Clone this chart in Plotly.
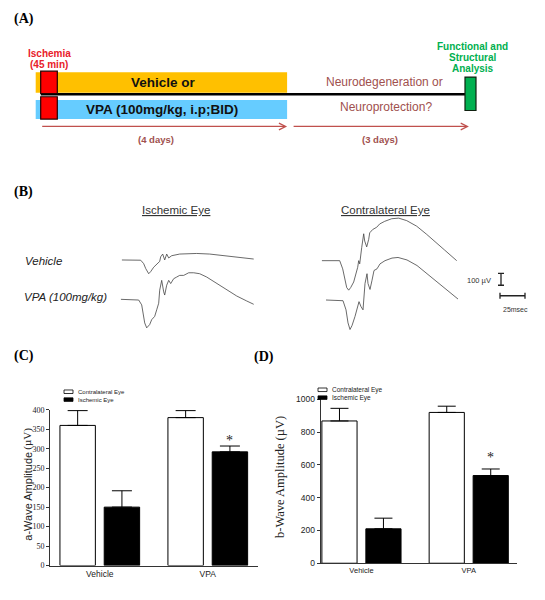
import plotly.graph_objects as go

W, H = 545, 600

# ------------------------------------------------------------------ data
groups = ["Vehicle", "VPA"]
series_names = ["Contralateral Eye", "Ischemic Eye"]

a_contra = [360, 380]
a_contra_sem = [38, 18]
a_isch = [150, 292]
a_isch_sem = [42, 15]
a_ticks = [0, 50, 100, 150, 200, 250, 300, 350, 400]

b_contra = [868, 920]
b_contra_sem = [77, 38]
b_isch = [210, 535]
b_isch_sem = [65, 40]
b_ticks = [0, 200, 400, 600, 800, 1000]

# ERG traces: time (ms) and amplitude (µV, relative to baseline)
isch_veh_t = [0, 19, 22, 24, 27, 29, 32, 35, 38, 39, 41, 43, 45, 47, 50, 58, 75, 88, 105, 122, 132]
isch_veh_uv = [0, -2, -31, -72, -116, -98, -61, -39, -12, 27, 50, 0, 50, 17, 36, 50, 55, 50, 36, 17, 8]

isch_vpa_t = [0, 18, 21, 23, 24, 26, 29, 31, 34, 36, 38, 39, 41, 43, 44, 46, 48, 50, 53, 56, 59, 63,
              68, 73, 79, 86, 96, 106, 116, 126, 133]
isch_vpa_uv = [0, -6, -47, -130, -199, -241, -213, -172, -144, -89, -33, 77, 160, 63, 36, 119, 160, 133,
               174, 188, 202, 202, 224, 224, 216, 188, 133, 77, 28, -14, -42]

con_veh_t = [0, 18, 21, 23, 25, 27, 29, 32, 34, 36, 37, 38, 40, 42, 43, 45, 47, 48, 51, 55, 58, 63, 70,
             77, 85, 95, 105, 115, 123, 135]
con_veh_uv = [0, 0, -69, -166, -227, -249, -227, -180, -124, -56, 0, -27, 110, 227, 166, 116, 180, 235,
              263, 282, 310, 332, 354, 359, 338, 291, 222, 152, 89, 0]

con_vpa_t = [0, 17, 20, 22, 24, 26, 29, 31, 33, 35, 37, 39, 41, 42, 44, 46, 48, 51, 54, 59, 66, 72, 81,
             91, 101, 111, 119, 132]
con_vpa_uv = [0, -6, -83, -193, -249, -216, -139, -69, -14, -56, -83, 139, 222, 139, 89, 166, 249, 263,
              305, 332, 354, 359, 338, 291, 222, 152, 97, 8]

scale_uv = 100
scale_ms = 25

ischemia_min = 45
treat_days = 4
follow_days = 3

# ------------------------------------------------------------------ styling helpers
SANS = "Liberation Sans, Arial, sans-serif"
SERIF = "Liberation Serif, Times New Roman, serif"
UV_PER_PX = 8.3   # vertical scale of ERG traces
MS_PER_PX = 1.0   # horizontal scale of ERG traces
DAY_PX = 61.6     # timeline scale (px per day)
DAY0_PX = 40.7    # x pixel of day 0


def xd(p0, p1):
    return [p0 / W, p1 / W]


def yd(top, bottom):
    return [1 - bottom / H, 1 - top / H]


annotations = []
shapes = []


def ptext(text, xpx, ypx, size, color="#000", family=SANS, xanchor="center", yanchor="middle", **kw):
    annotations.append(dict(text=text, x=xpx / W, y=1 - ypx / H, xref="paper", yref="paper",
                            showarrow=False, xanchor=xanchor, yanchor=yanchor,
                            font=dict(size=size, color=color, family=family), **kw))


fig = go.Figure()

# ------------------------------------------------------------------ panel C (a-wave)
bar_common = dict(showlegend=False, hoverinfo="skip")
fig.add_trace(go.Bar(x=groups, y=a_contra, name=series_names[0], xaxis="x", yaxis="y",
                     marker=dict(color="white", line=dict(color="black", width=1)),
                     error_y=dict(type="data", symmetric=False, array=a_contra_sem, arrayminus=[0, 0],
                                  color="black", thickness=1, width=10), **bar_common))
fig.add_trace(go.Bar(x=groups, y=a_isch, name=series_names[1], xaxis="x", yaxis="y",
                     marker=dict(color="black", line=dict(color="black", width=1)),
                     error_y=dict(type="data", symmetric=False, array=a_isch_sem, arrayminus=[0, 0],
                                  color="black", thickness=1, width=10), **bar_common))

# ------------------------------------------------------------------ panel D (b-wave)
fig.add_trace(go.Bar(x=groups, y=b_contra, name=series_names[0], xaxis="x2", yaxis="y2",
                     marker=dict(color="white", line=dict(color="black", width=1)),
                     error_y=dict(type="data", symmetric=False, array=b_contra_sem, arrayminus=[0, 0],
                                  color="black", thickness=1, width=9), **bar_common))
fig.add_trace(go.Bar(x=groups, y=b_isch, name=series_names[1], xaxis="x2", yaxis="y2",
                     marker=dict(color="black", line=dict(color="black", width=1)),
                     error_y=dict(type="data", symmetric=False, array=b_isch_sem, arrayminus=[0, 0],
                                  color="black", thickness=1, width=9), **bar_common))

# ------------------------------------------------------------------ panel B (ERG traces)
waves = [
    ("3", isch_veh_t, isch_veh_uv, 121.7, 259.3),
    ("4", isch_vpa_t, isch_vpa_uv, 120.7, 299.3),
    ("5", con_veh_t, con_veh_uv, 321.7, 260.0),
    ("6", con_vpa_t, con_vpa_uv, 326.0, 300.0),
]
wave_axes = {}
for k, t, uv, x0, base in waves:
    fig.add_trace(go.Scatter(x=t, y=uv, mode="lines", xaxis="x" + k, yaxis="y" + k,
                             line=dict(color="#444", width=0.8), showlegend=False, hoverinfo="skip"))
    wave_axes["xaxis" + k] = dict(domain=xd(x0, x0 + 145), range=[0, 145 * MS_PER_PX], visible=False,
                                  anchor="y" + k, fixedrange=True)
    wave_axes["yaxis" + k] = dict(domain=yd(base - 50, base + 38),
                                  range=[-38 * UV_PER_PX, 50 * UV_PER_PX], visible=False,
                                  anchor="x" + k, fixedrange=True)

# scale bar (its own axes with the same scale as the traces)
sb_x0, sb_base = 501, 285
cap_ms = 3 * MS_PER_PX
h_level = -10.7 * UV_PER_PX
tick_uv = 3 * UV_PER_PX
sb_x = [0, 0, None, -cap_ms, cap_ms, None, -cap_ms, cap_ms, None,
        -1, -1 + scale_ms, None, -1, -1, None, -1 + scale_ms, -1 + scale_ms]
sb_y = [0, scale_uv, None, 0, 0, None, scale_uv, scale_uv, None,
        h_level, h_level, None, h_level - tick_uv, h_level + tick_uv, None, h_level - tick_uv, h_level + tick_uv]
fig.add_trace(go.Scatter(x=sb_x, y=sb_y, mode="lines", xaxis="x7", yaxis="y7",
                         line=dict(color="#222", width=1.3), showlegend=False, hoverinfo="skip"))
wave_axes["xaxis7"] = dict(domain=xd(490, 535), range=[(490 - sb_x0) * MS_PER_PX, (535 - sb_x0) * MS_PER_PX],
                           visible=False, anchor="y7", fixedrange=True)
wave_axes["yaxis7"] = dict(domain=yd(262, 305), range=[-(305 - sb_base) * UV_PER_PX, (sb_base - 262) * UV_PER_PX],
                           visible=False, anchor="x7", fixedrange=True)

# ------------------------------------------------------------------ panel A (timeline, x in days)
total_days = treat_days + follow_days
fig.add_trace(go.Scatter(x=[0, total_days], y=[90.7, 90.7], mode="lines", xaxis="x8", yaxis="y8",
                         line=dict(color="black", width=2.6), showlegend=False, hoverinfo="skip"))
pad = 5 / DAY_PX
shapes += [
    dict(type="rect", xref="x8", yref="y8", x0=-pad, x1=treat_days, y0=68.3, y1=89.3,
         fillcolor="#FFC000", line=dict(width=0), layer="below"),
    dict(type="rect", xref="x8", yref="y8", x0=-pad, x1=treat_days, y0=96.5, y1=116,
         fillcolor="#66CCFF", line=dict(width=0), layer="below"),
    dict(type="rect", xref="x8", yref="y8", xsizemode="pixel", xanchor=0, x0=0, x1=16.6,
         y0=67.3, y1=90, fillcolor="#FF0000", line=dict(color="#200", width=1.2)),
    dict(type="rect", xref="x8", yref="y8", xsizemode="pixel", xanchor=0, x0=0, x1=16.6,
         y0=93.3, y1=116, fillcolor="#FF0000", line=dict(color="#200", width=1.2)),
    dict(type="rect", xref="x8", yref="y8", xsizemode="pixel", xanchor=total_days, x0=-6.9, x1=4.1,
         y0=73.3, y1=107.3, fillcolor="#00B050", line=dict(color="#102010", width=1.2)),
]

ARROW = "#C0504D"
BROWN = "#A0504E"


def tl_text(text, day, ypx, size, color, bold=False, xshift=0):
    annotations.append(dict(text=("<b>%s</b>" % text) if bold else text, x=day, y=ypx, xref="x8", yref="y8",
                            showarrow=False, xshift=xshift, xanchor="center", yanchor="middle",
                            font=dict(size=size, color=color, family=SANS)))


annotations.append(dict(x=treat_days, y=123.5, ax=0, ay=123.5, xref="x8", yref="y8", axref="x8", ayref="y8",
                        text="", showarrow=True, arrowhead=5, arrowsize=1.1, arrowwidth=1.2,
                        arrowcolor=ARROW, standoff=0))
annotations.append(dict(x=total_days, y=123.5, ax=treat_days, ay=123.5, xref="x8", yref="y8", axref="x8",
                        ayref="y8", text="", showarrow=True, arrowhead=5, arrowsize=1.1, arrowwidth=1.2,
                        arrowcolor=ARROW, standoff=3, startstandoff=5))

tl_text("Ischemia", 0, 49.3, 10, "#E8202A", bold=True, xshift=8.6)
tl_text("(%d min)" % ischemia_min, 0, 61, 10, "#E8202A", bold=True, xshift=8.6)
tl_text("Vehicle or", treat_days / 2, 79.3, 13.5, "#111", bold=True)
tl_text("VPA (100mg/kg, i.p;BID)", treat_days / 2, 106.7, 13.5, "#111", bold=True, xshift=-2)
tl_text("Neurodegeneration or", treat_days + follow_days / 2, 78.5, 12, BROWN, xshift=5)
tl_text("Neuroprotection?", treat_days + follow_days / 2, 104, 12, BROWN, xshift=6.5)
tl_text("Functional and", total_days, 42.3, 10, "#00B050", bold=True, xshift=1)
tl_text("Structural", total_days, 53.3, 10, "#00B050", bold=True, xshift=1)
tl_text("Analysis", total_days, 64.3, 10, "#00B050", bold=True, xshift=1)
tl_text("(%d days)" % treat_days, treat_days / 2, 136.5, 9.5, BROWN, bold=True, xshift=-8)
tl_text("(%d days)" % follow_days, treat_days + follow_days / 2, 136.5, 9.5, BROWN, bold=True)

# ------------------------------------------------------------------ panel labels & texts
ptext("<b>(A)</b>", 23.5, 14, 14, family=SERIF)
ptext("<b>(B)</b>", 23.5, 190, 14, family=SERIF)
ptext("<b>(C)</b>", 23.5, 357, 14, family=SERIF)
ptext("<b>(D)</b>", 264, 358, 14, family=SERIF)

ptext("<u>Ischemic Eye</u>", 175.7, 208.3, 11.5, "#333")
ptext("<u>Contralateral Eye</u>", 385, 208.3, 11.5, "#333")
ptext("<i>Vehicle</i>", 23, 260.7, 11.5, "#222", xanchor="left")
ptext("<i>VPA (100mg/kg)</i>", 21.5, 297, 11.5, "#222", xanchor="left")
ptext("%d µV" % scale_uv, 479, 280, 7.5, "#333")
ptext("%dmsec" % scale_ms, 515, 310, 7, "#333")

# axis titles (a-wave: sans text with a serif unit, as in the original)
ptext("a-Wave Amplitude", 28, 500, 11, "#222", family=SANS, textangle=-90)
ptext("(µV)", 28, 441, 11, "#222", family=SERIF, textangle=-90)
ptext("b-Wave Amplitude (µV)", 280, 480, 12.5, "#222", family=SERIF, textangle=-90)

# manual legends
for (lx, ly, tsize) in [(64, 393.3, 6), (318, 391.3, 6.5)]:
    for i, name in enumerate(series_names):
        yy = ly + 8 * i
        shapes.append(dict(type="rect", xref="paper", yref="paper", x0=lx / W, x1=(lx + 9) / W,
                           y0=1 - (yy + 1.8) / H, y1=1 - (yy - 1.8) / H,
                           fillcolor="white" if i == 0 else "black", line=dict(color="black", width=0.8)))
        ptext(name, lx + 12, yy, tsize, "#222", xanchor="left")

# significance stars
annotations.append(dict(text="*", x=groups[1], y=322, xref="x", yref="y", xshift=22, showarrow=False,
                        font=dict(size=14, family=SERIF, color="#222"), yanchor="middle"))
annotations.append(dict(text="*", x=groups[1], y=645, xref="x2", yref="y2", xshift=22, showarrow=False,
                        font=dict(size=14, family=SERIF, color="#222"), yanchor="middle"))

# ------------------------------------------------------------------ layout
axis_common = dict(showline=True, linecolor="#333", linewidth=1, showgrid=False, zeroline=False,
                   fixedrange=True, tickcolor="#333")
fig.update_layout(
    width=W, height=H, autosize=False,
    margin=dict(l=0, r=0, t=0, b=0),
    paper_bgcolor="white", plot_bgcolor="rgba(0,0,0,0)",
    barmode="group", bargap=0.18, bargroupgap=0.2,
    xaxis=dict(domain=xd(50, 258), range=[-0.461, 1.465], anchor="y", ticks="",
               tickfont=dict(size=8.5, family=SANS, color="#222"), **axis_common),
    yaxis=dict(domain=yd(411.7, 570), range=[0, 400], anchor="x", tickvals=a_ticks, ticks="outside",
               ticklen=3, tickfont=dict(size=8, family=SERIF, color="#222"), **axis_common),
    xaxis2=dict(domain=xd(320.7, 517), range=[-0.38, 1.45], anchor="y2", ticks="",
                tickfont=dict(size=7.5, family=SANS, color="#222"), **axis_common),
    yaxis2=dict(domain=yd(401, 567.7), range=[0, 1000], anchor="x2", tickvals=b_ticks, ticks="outside",
                ticklen=3, tickfont=dict(size=8.5, family=SANS, color="#222"), **axis_common),
    xaxis8=dict(domain=[0, 1], range=[-DAY0_PX / DAY_PX, (W - DAY0_PX) / DAY_PX], visible=False,
                anchor="y8", fixedrange=True),
    yaxis8=dict(domain=yd(0, 150), range=[150, 0], visible=False, anchor="x8", fixedrange=True),
    annotations=annotations,
    shapes=shapes,
    hovermode=False,
)
fig.update_layout(**wave_axes)

# remove the browser's default 8px page margin so the figure sits at the window origin
fig.write_html("out.html", config={"displayModeBar": False, "staticPlot": True},
               post_script="document.body.style.margin='0';")
